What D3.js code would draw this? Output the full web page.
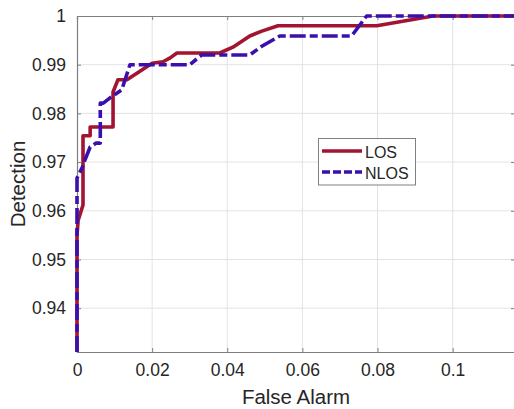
<!DOCTYPE html>
<html>
<head>
<meta charset="utf-8">
<script src="https://cdn.jsdelivr.net/npm/d3@7"></script>
<style>
  body { margin: 0; background: #fff; }
  svg { display: block; font-family: "Liberation Sans", Arial, sans-serif; }
</style>
</head>
<body>
<script>
// ROC curves
var losFA = [0, 0, 0.0003, 0.0016, 0.0016, 0.0035, 0.0035, 0.0096, 0.0096, 0.0109, 0.0133, 0.0200, 0.0229, 0.0248, 0.0266, 0.0367, 0.0380, 0.0415, 0.0460, 0.0492, 0.0535, 0.0798, 0.0948, 0.1170];
var losPd = [0.931, 0.955, 0.958, 0.9612, 0.9754, 0.9754, 0.9772, 0.9772, 0.9844, 0.9869, 0.9869, 0.9903, 0.9906, 0.9914, 0.9924, 0.9924, 0.9924, 0.9936, 0.9959, 0.9969, 0.998, 0.998, 1.0, 1.0];

var nlosFA = [0, 0, 0.0017, 0.0019, 0.0035, 0.0051, 0.0062, 0.0062, 0.0070, 0.0088, 0.0119, 0.0141, 0.0300, 0.0332, 0.0460, 0.0492, 0.0540, 0.0731, 0.0771, 0.1170];
var nlosPd = [0.931, 0.9667, 0.9694, 0.9700, 0.9731, 0.9739, 0.9739, 0.9821, 0.9821, 0.9832, 0.9848, 0.990, 0.990, 0.992, 0.992, 0.9938, 0.9959, 0.9959, 1.0, 1.0];

var xTicks = [0, 0.02, 0.04, 0.06, 0.08, 0.1];
var xTickLabels = ['0', '0.02', '0.04', '0.06', '0.08', '0.1'];
var yTicks = [0.94, 0.95, 0.96, 0.97, 0.98, 0.99, 1];
var yTickLabels = ['0.94', '0.95', '0.96', '0.97', '0.98', '0.99', '1'];
var seriesNames = ['LOS', 'NLOS'];

(function() {
  var W = 514, H = 409;
  var mLeft = 77, mRight = 515, mTop = 16, mBottom = 352;
  var textCol = '#262626', axisCol = '#7f7f7f', gridCol = '#e3e3e3';
  var red = '#a2142f', blue = '#3b0fae';

  var svg = d3.select('body').append('svg').attr('width', W).attr('height', H);

  var x = d3.scaleLinear().domain([0, 0.1166]).range([mLeft, mRight]);
  var y = d3.scaleLinear().domain([0.931, 1]).range([mBottom, mTop]);

  // grid
  svg.append('g').selectAll('line').data(xTicks.slice(1)).enter().append('line')
    .attr('x1', function(d) { return x(d); }).attr('x2', function(d) { return x(d); })
    .attr('y1', mTop).attr('y2', mBottom)
    .attr('stroke', gridCol).attr('stroke-width', 1);
  svg.append('g').selectAll('line').data(yTicks.slice(0, -1)).enter().append('line')
    .attr('x1', mLeft).attr('x2', mRight)
    .attr('y1', function(d) { return y(d); }).attr('y2', function(d) { return y(d); })
    .attr('stroke', gridCol).attr('stroke-width', 1);

  // axes
  var xAxis = d3.axisBottom(x).tickValues(xTicks).tickSize(-4).tickPadding(12)
    .tickFormat(function(d, i) { return xTickLabels[i]; });
  var gx = svg.append('g').attr('transform', 'translate(0,' + mBottom + ')').call(xAxis);
  var yAxis = d3.axisLeft(y).tickValues(yTicks).tickSize(-4).tickPadding(11)
    .tickFormat(function(d, i) { return yTickLabels[i]; });
  var gy = svg.append('g').attr('transform', 'translate(' + mLeft + ',0)').call(yAxis);
  var xTop = svg.append('g').attr('transform', 'translate(0,' + mTop + ')')
    .call(d3.axisTop(x).tickValues(xTicks).tickSize(-4).tickFormat(''));
  var yRight = svg.append('g').attr('transform', 'translate(' + mRight + ',0)')
    .call(d3.axisRight(y).tickValues(yTicks).tickSize(-4).tickFormat(''));

  [gx, gy, xTop, yRight].forEach(function(g) {
    g.select('.domain').attr('stroke', axisCol).attr('stroke-width', 1.2);
    g.selectAll('.tick line').attr('stroke', axisCol);
    g.selectAll('.tick text').attr('fill', textCol).style('font-size', '17.5px')
      .style('font-family', '"Liberation Sans", Arial, sans-serif');
  });

  // curves
  var line = d3.line().x(function(d) { return x(d[0]); }).y(function(d) { return y(d[1]); });
  var losData = losFA.map(function(d, i) { return [d, losPd[i]]; });
  var nlosData = nlosFA.map(function(d, i) { return [d, nlosPd[i]]; });

  svg.append('path').datum(losData).attr('d', line)
    .attr('fill', 'none').attr('stroke', red).attr('stroke-width', 3.6)
    .attr('stroke-linejoin', 'round');
  svg.append('path').datum(nlosData).attr('d', line)
    .attr('fill', 'none').attr('stroke', blue).attr('stroke-width', 3.6)
    .attr('stroke-dasharray', '16,4,8,4').attr('stroke-linejoin', 'round');

  // labels
  svg.append('text').attr('x', (mLeft + mRight) / 2).attr('y', 404)
    .attr('text-anchor', 'middle').attr('fill', textCol).style('font-size', '20.5px')
    .text('False Alarm');
  svg.append('text').attr('transform', 'translate(25,' + ((mTop + mBottom) / 2) + ') rotate(-90)')
    .attr('text-anchor', 'middle').attr('fill', textCol).style('font-size', '20.5px')
    .text('Detection');

  // legend
  var lg = svg.append('g');
  lg.append('rect').attr('x', 318.5).attr('y', 138.5).attr('width', 97).attr('height', 46.5)
    .attr('fill', '#fff').attr('stroke', '#808080').attr('stroke-width', 1);
  var legColors = [red, blue], legDash = [null, '8,3'];
  seriesNames.forEach(function(name, i) {
    var ly = 151 + i * 21;
    lg.append('line').attr('x1', 322).attr('x2', 362).attr('y1', ly).attr('y2', ly)
      .attr('stroke', legColors[i]).attr('stroke-width', 3.6)
      .attr('stroke-dasharray', legDash[i]);
    lg.append('text').attr('x', 365).attr('y', ly + 6.5).attr('fill', textCol)
      .style('font-size', '16px').text(name);
  });
})();
</script>
</body>
</html>
